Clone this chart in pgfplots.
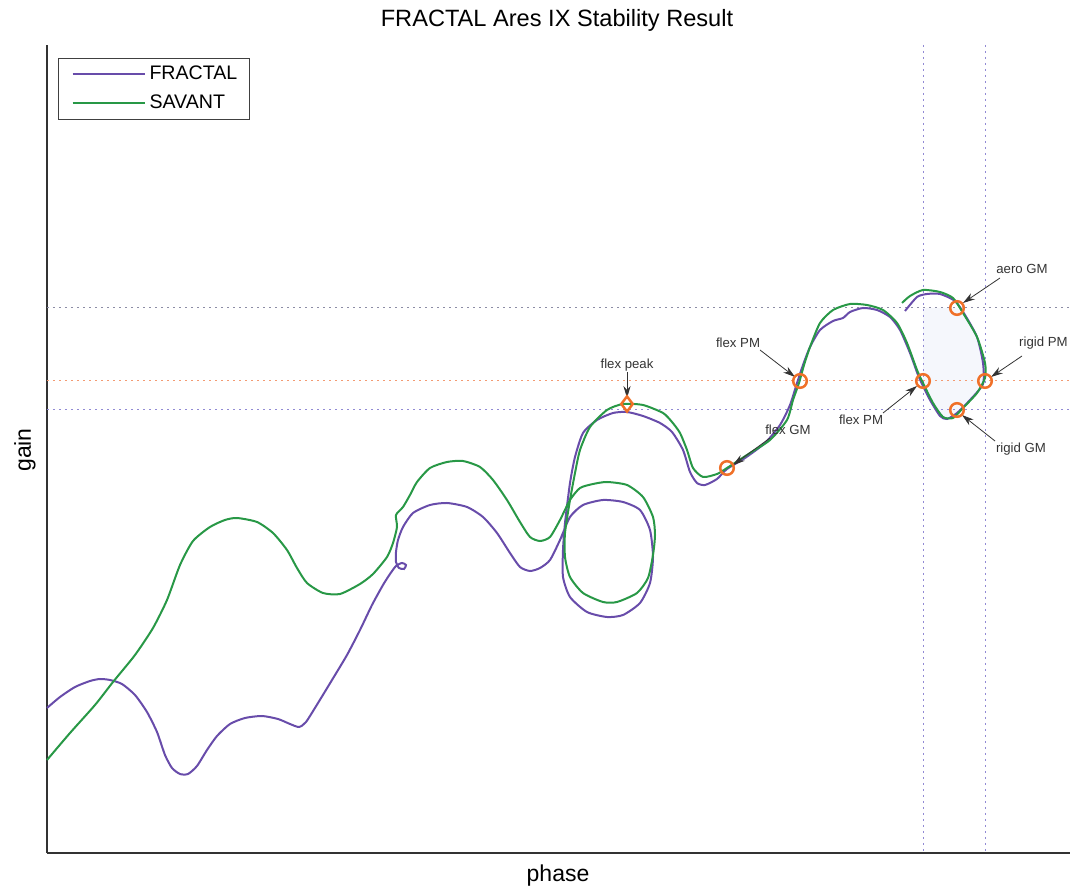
\documentclass[border=0pt]{standalone}
\usepackage{pgfplots}
\pgfplotsset{compat=1.18}
\usepackage{fontspec}
\setmainfont{Liberation Sans}
\usetikzlibrary{arrows.meta}
\definecolor{frac}{RGB}{104,76,170}
\definecolor{sav}{RGB}{40,152,70}
\definecolor{mk}{RGB}{240,112,40}
\definecolor{dotp}{RGB}{145,138,212}
\definecolor{dotg}{RGB}{140,140,165}
\definecolor{doto}{RGB}{243,155,115}
\definecolor{fillc}{RGB}{245,247,252}
\begin{document}
\begin{tikzpicture}
\begin{axis}[
  scale only axis, width=511.5pt, height=404pt,
  xmin=47, xmax=1070, ymin=-853, ymax=-45,
  axis x line*=bottom, axis y line*=left,
  axis line style={black!80, line width=0.6pt},
  ticks=none, clip=false,
  legend style={at={(axis cs:58,-58)}, anchor=north west, draw=black!75, line width=0.5pt,
    font=\fontsize{9.8}{11}\selectfont, inner xsep=4pt, inner ysep=1.8pt, row sep=2pt},
  legend cell align=left,
  legend image code/.code={\path (0pt,0pt); \draw[#1] (2.5pt,0pt) -- (38.5pt,0pt);},
]
% shaded region
\addplot[fill=fillc, draw=none, forget plot] coordinates {
(923,-308) (957,-308) (963,-313) (977,-337) (983,-363) (985,-381) (977,-393) (963,-407) (957,-412) (950,-418) (943,-417) (933,-403) (923,-381)} -- cycle;
% dotted reference lines
\addplot[dotg, line width=0.5pt, dash pattern=on 0.8pt off 2.2pt, forget plot] coordinates {(47,-308) (1070,-308)};
\addplot[dotp, line width=0.5pt, dash pattern=on 0.8pt off 2.2pt, forget plot] coordinates {(47,-410) (1070,-410)};
\addplot[doto, line width=0.5pt, dash pattern=on 0.8pt off 2.2pt, forget plot] coordinates {(47,-381) (1070,-381)};
\addplot[dotp, line width=0.5pt, dash pattern=on 0.8pt off 2.2pt, forget plot] coordinates {(923,-45) (923,-853)};
\addplot[dotp, line width=0.5pt, dash pattern=on 0.8pt off 2.2pt, forget plot] coordinates {(985,-45) (985,-853)};
% FRACTAL
\addplot[frac, line width=1pt, smooth, tension=0.4] coordinates {
(47,-708) (60,-697) (75,-687) (90,-681) (100,-679) (110,-680) (122,-684) (135,-695) (147,-712) (157,-732) (165,-755) (172,-768) (180,-774) (188,-774) (197,-766) (207,-750) (217,-736) (230,-724) (245,-718) (262,-716) (278,-719) (290,-724) (299,-727) (306,-722) (318,-703) (332,-680) (347,-655) (360,-630) (372,-605) (383,-585) (390,-574) (396,-566) (402,-563) (406,-565) (404,-569) (399,-568) (396,-562) (396,-552) (398,-540) (403,-527) (413,-513) (430,-505) (447,-503) (467,-507) (483,-517) (497,-533) (510,-553) (520,-567) (530,-571) (540,-568) (550,-560) (560,-540) (570,-517) (583,-505) (603,-500) (623,-502) (640,-510) (650,-530) (653,-557) (650,-583) (640,-603) (623,-615) (607,-617) (587,-612) (570,-597) (563,-577) (563,-550) (565,-523) (570,-483) (575,-457) (583,-433) (597,-420) (613,-413) (627,-412) (643,-416) (660,-423) (672,-432) (683,-450) (690,-472) (697,-483) (705,-485) (717,-479) (727,-469) (745,-458) (765,-443) (780,-425) (790,-405) (797,-383) (803,-365) (810,-347) (820,-330) (833,-321) (843,-318) (850,-312) (863,-308) (877,-310) (890,-317) (900,-330) (910,-353) (918,-375) (923,-386) (930,-400) (940,-416) (947,-419) (957,-413) (970,-400) (983,-384) (983,-363) (977,-337) (965,-315) (955,-301) (940,-294) (927,-294) (917,-297) (905,-311)};
\addlegendentry{FRACTAL}
% SAVANT
\addplot[sav, line width=1pt, smooth, tension=0.4] coordinates {
(47,-760) (70,-733) (95,-705) (113,-682) (135,-655) (153,-628) (167,-600) (180,-565) (193,-541) (210,-527) (225,-520) (237,-518) (257,-522) (273,-533) (287,-550) (297,-568) (307,-583) (323,-593) (340,-594) (360,-584) (373,-574) (387,-557) (393,-543) (397,-527) (396,-515) (403,-507) (410,-495) (417,-482) (430,-468) (447,-462) (463,-461) (480,-467) (493,-480) (507,-500) (520,-522) (530,-537) (540,-541) (550,-537) (560,-520) (570,-500) (580,-488) (593,-484) (607,-482) (627,-485) (643,-497) (653,-517) (655,-535) (653,-555) (648,-578) (637,-593) (617,-602) (603,-602) (583,-593) (570,-577) (565,-557) (565,-533) (570,-500) (575,-473) (580,-450) (590,-427) (607,-410) (623,-404) (643,-405) (663,-413) (672,-422) (680,-433) (687,-450) (693,-468) (703,-477) (717,-474) (727,-468) (750,-453) (770,-440) (787,-420) (793,-400) (799,-383) (804,-365) (810,-347) (820,-323) (833,-310) (850,-304) (867,-305) (883,-310) (897,-323) (907,-343) (917,-370) (923,-383) (933,-403) (943,-417) (953,-418) (963,-408) (977,-393) (985,-378) (985,-363) (977,-337) (963,-313) (953,-298) (940,-292) (923,-290) (910,-296) (902,-303)};
\addlegendentry{SAVANT}
% markers
\addplot[only marks, mark=o, mark size=3.4pt, mk, line width=1.25pt, forget plot] coordinates {
(727,-468) (800,-381) (923,-381) (957,-308) (985,-381) (957,-410)};
\addplot[only marks, mark=diamond, mark size=3.8pt, mk, line width=1.25pt, forget plot] coordinates {(627,-404)};
% annotations
\begin{scope}[font=\fontsize{6.6}{7}\selectfont, text=black!80]
\node at (axis cs:627,-365) {flex peak};
\node at (axis cs:738,-343) {flex PM};
\node at (axis cs:788,-430) {flex GM};
\node at (axis cs:861,-420) {flex PM};
\node at (axis cs:1022,-269) {aero GM};
\node[anchor=east, inner sep=0pt] at (axis cs:1068,-343) {rigid PM};
\node at (axis cs:1021,-449) {rigid GM};
\end{scope}
\begin{scope}[-{Stealth[length=6pt,width=3.6pt]}, black!80, line width=0.4pt]
\draw (axis cs:627,-372) -- (axis cs:627,-398);
\draw (axis cs:760,-350) -- (axis cs:795,-377);
\draw (axis cs:770,-438) -- (axis cs:733,-465);
\draw (axis cs:883,-413) -- (axis cs:917,-386);
\draw (axis cs:1000,-278) -- (axis cs:963,-303);
\draw (axis cs:1022,-356) -- (axis cs:991,-377);
\draw (axis cs:995,-441) -- (axis cs:962,-415);
\end{scope}
% titles
\node[font=\fontsize{11.8}{13}\selectfont] at (axis cs:557,-20) {FRACTAL Ares IX Stability Result};
\node[font=\fontsize{11.5}{13}\selectfont] at (axis cs:558,-876) {phase};
\node[font=\fontsize{11.5}{13}\selectfont, rotate=90] at (axis cs:25,-450) {gain};
\coordinate (bbA) at (axis cs:0,-888);
\coordinate (bbB) at (axis cs:1070,0);
\end{axis}
\pgfresetboundingbox
\path[use as bounding box] (bbA) rectangle (bbB);
\end{tikzpicture}
\end{document}
